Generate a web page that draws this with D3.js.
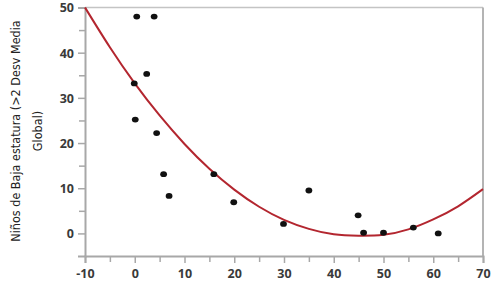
<!DOCTYPE html>
<html><head><meta charset="utf-8">
<script src="https://cdn.jsdelivr.net/npm/d3@7"></script>
<style>body{margin:0;background:#fff}svg{display:block}</style>
</head><body>
<script>
const xTicks = [-10, 0, 10, 20, 30, 40, 50, 60, 70];
const yTicks = [0, 10, 20, 30, 40, 50];
const pointX = [0.4, 3.9, 2.4, -0.1, 0.1, 4.4, 5.8, 6.9, 15.9, 19.9, 29.9, 35, 44.9, 46, 50, 56, 61];
const pointY = [48, 48, 35.3, 33.2, 25.2, 22.2, 13.1, 8.3, 13.1, 6.9, 2.1, 9.5, 4.0, 0.15, 0.15, 1.3, 0];
const curveX = [-10, -5, 0, 5, 10, 15, 20, 25, 30, 35, 40, 45, 50, 55, 60, 65, 70];
const curveY = [50, 41.2, 33.2, 26.1, 19.8, 14.3, 9.7, 5.9, 3.0, 1.0, -0.2, -0.5, -0.3, 0.9, 3.1, 6.0, 9.8];
const yTitle = ["Niños de Baja estatura (>2 Desv Media", "Global)"];

const W = 500, H = 290;
const svg = d3.select("body").append("svg").attr("width", W).attr("height", H);
const x = d3.scaleLinear().domain([-10, 70]).range([85, 483]);
const y = d3.scaleLinear().domain([-5, 50]).range([256, 7.5]);

const axisCol = "#a8a8a8";
const font = "'Open Sans', 'DejaVu Sans', sans-serif";
const fmt = (d) => String(d);

// frame top/right
svg.append("line").attr("x1", x(-10)).attr("x2", x(70)).attr("y1", y(50)).attr("y2", y(50))
  .attr("stroke", "#c4c4c4").attr("stroke-width", 1.5);
svg.append("line").attr("x1", x(70)).attr("x2", x(70)).attr("y1", y(50)).attr("y2", y(-5))
  .attr("stroke", "#b4b4b4").attr("stroke-width", 2);

const xMinor = d3.range(-5, 70, 10);
const yMinor = d3.range(5, 50, 10);
const gx = svg.append("g").attr("transform", `translate(0,${y(-5)})`);
gx.call(d3.axisBottom(x).tickValues(xTicks).tickSize(7).tickPadding(4).tickFormat(fmt));
const gxm = svg.append("g").attr("transform", `translate(0,${y(-5)})`)
  .call(d3.axisBottom(x).tickValues(xMinor).tickSize(6).tickFormat(""));
gxm.select(".domain").remove();

const gy = svg.append("g").attr("transform", `translate(${x(-10)},0)`);
gy.call(d3.axisLeft(y).tickValues(yTicks).tickSize(7).tickPadding(4).tickFormat(fmt));
const gym = svg.append("g").attr("transform", `translate(${x(-10)},0)`)
  .call(d3.axisLeft(y).tickValues(yMinor).tickSize(6).tickFormat(""));
gym.select(".domain").remove();

svg.selectAll(".domain").attr("stroke", axisCol).attr("stroke-width", 2);
svg.selectAll(".tick line").attr("stroke", axisCol).attr("stroke-width", 1.5);
svg.selectAll(".tick text").attr("fill", "#3a3a3a").attr("font-family", font)
  .attr("font-size", 12.5).attr("font-weight", "bold");
gx.selectAll(".tick text").attr("dy", "0.9em");
gy.selectAll(".tick text").attr("dy", "0.35em");

// fitted curve
const line = d3.line().x((d, i) => x(curveX[i])).y((d, i) => y(curveY[i])).curve(d3.curveNatural);
svg.append("path").datum(curveY).attr("d", line).attr("fill", "none")
  .attr("stroke", "#b3262f").attr("stroke-width", 2);

// points
svg.append("g").selectAll("ellipse").data(pointX).join("ellipse")
  .attr("cx", (d) => x(d)).attr("cy", (d, i) => y(pointY[i]))
  .attr("rx", 3.4).attr("ry", 2.9).attr("fill", "#111");

// y title
const t = svg.append("text").attr("transform", "translate(0,131) rotate(-90)")
  .attr("text-anchor", "middle").attr("font-family", "'Liberation Sans Narrow', 'DejaVu Sans Condensed', sans-serif")
  .attr("font-size", 12.5).attr("fill", "#222");
t.append("tspan").attr("x", 0).attr("y", 20).text(yTitle[0]);
t.append("tspan").attr("x", 0).attr("y", 42).text(yTitle[1]);
</script>
</body></html>
